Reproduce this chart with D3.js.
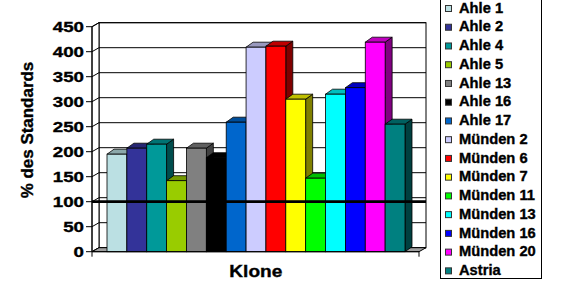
<!DOCTYPE html>
<html><head><meta charset="utf-8">
<script src="https://cdn.jsdelivr.net/npm/d3@7"></script>
<style>html,body{margin:0;padding:0;background:#fff;overflow:hidden}svg{display:block}text{font-family:"Liberation Sans",Arial,sans-serif;font-weight:bold;fill:#000;stroke:#000;stroke-width:0.35px}</style>
</head><body>
<script>
const categories = ["Ahle 1","Ahle 2","Ahle 4","Ahle 5","Ahle 13","Ahle 16","Ahle 17","Münden 2","Münden 6","Münden 7","Münden 11","Münden 13","Münden 16","Münden 20","Astria"];
const values = [195,207,215,142,207,188,259,409,411,305,147,315,328,419,255];
const colors = ["#BBE0E3","#333399","#009999","#99CC00","#808080","#000000","#0066CC","#CCCCFF","#FF0000","#FFFF00","#00FF00","#00FFFF","#0000FF","#FF00FF","#008080"];
const yTicks = [0,50,100,150,200,250,300,350,400,450];
const refValue = 100;
const xTitle = "Klone", yTitle = "% des Standards";

const W=562,H=308;
const svg=d3.select("body").append("svg").attr("width",W).attr("height",H);
const y=d3.scaleLinear().domain([0,450]).range([251.7,26.7]);
const x=d3.scaleBand().domain(categories).range([107,405]).padding(0);
const floorL=92, floorR=419, wdx=7, wdy=-4, bdx=7, bdy=-5;
const y0=y(0), yTop=y(450);

// back wall
svg.append("rect").attr("x",floorL+wdx).attr("y",yTop+wdy).attr("width",floorR-floorL).attr("height",y0-yTop)
  .attr("fill","#fff").attr("stroke","#000").attr("stroke-width",1);
// left wall
svg.append("path").attr("d",`M${floorL},${y0}L${floorL},${yTop}L${floorL+wdx},${yTop+wdy}L${floorL+wdx},${y0+wdy}Z`)
  .attr("fill","#fff").attr("stroke","#000");
// gridlines
yTicks.forEach(t=>{
  const yy=y(t);
  svg.append("path").attr("d",`M${floorL},${yy}L${floorL+wdx},${yy+wdy}L${floorR+wdx},${yy+wdy}`)
    .attr("fill","none").attr("stroke","#000").attr("stroke-width",1);
});
// floor
svg.append("path").attr("d",`M${floorL},${y0}L${floorL+wdx},${y0+wdy}L${floorR+wdx},${y0+wdy}L${floorR},${y0}Z`)
  .attr("fill","#A0A0A0").attr("stroke","#000");

function shade(c,k){const r=d3.rgb(c);return d3.rgb(r.r*k,r.g*k,r.b*k).toString();}
// bars
categories.forEach((c,i)=>{
  const x0=x(c), x1=x0+x.bandwidth(), yt=y(values[i]);
  const g=svg.append("g");
  g.append("path").attr("d",`M${x1},${y0}L${x1+bdx},${y0+bdy}L${x1+bdx},${yt+bdy}L${x1},${yt}Z`)
    .attr("fill",shade(colors[i],0.5)).attr("stroke","#000").attr("stroke-width",0.8);
  g.append("path").attr("d",`M${x0},${yt}L${x0+bdx},${yt+bdy}L${x1+bdx},${yt+bdy}L${x1},${yt}Z`)
    .attr("fill",shade(colors[i],0.75)).attr("stroke","#000").attr("stroke-width",0.8);
  g.append("rect").attr("x",x0).attr("y",yt).attr("width",x.bandwidth()).attr("height",y0-yt)
    .attr("fill",colors[i]).attr("stroke","#000").attr("stroke-width",0.8);
});

// axis line and ticks
svg.append("line").attr("x1",floorL).attr("x2",floorL).attr("y1",yTop).attr("y2",y0).attr("stroke","#000");
svg.append("line").attr("x1",floorL).attr("x2",floorR).attr("y1",y0).attr("y2",y0).attr("stroke","#000");
[floorL,floorR].forEach(xx=>svg.append("line").attr("x1",xx).attr("x2",xx).attr("y1",y0).attr("y2",y0+5).attr("stroke","#000"));
yTicks.forEach(t=>{
  svg.append("line").attr("x1",86).attr("x2",floorL).attr("y1",y(t)).attr("y2",y(t)).attr("stroke","#000");
  svg.append("text").attr("transform",`translate(84,${y(t)+5.4}) scale(1.25,1)`).attr("text-anchor","end")
    .attr("font-size",15).text(t);
});
// reference line
svg.append("line").attr("x1",floorL).attr("x2",floorR+wdx).attr("y1",y(refValue)).attr("y2",y(refValue))
  .attr("stroke","#000").attr("stroke-width",2.8);

// titles
svg.append("text").attr("transform","translate(255.8,276.7) scale(1.19,1)").attr("text-anchor","middle").attr("font-size",16).text(xTitle);
svg.append("text").attr("transform","translate(32.7,130) rotate(-90) scale(1.06,1)").attr("text-anchor","middle").attr("font-size",16).text(yTitle);

// legend
svg.append("rect").attr("x",440.5).attr("y",-1).attr("width",101).attr("height",279.5).attr("fill","#fff").attr("stroke","#000");
categories.forEach((c,i)=>{
  const by=12.7+i*18.74;
  svg.append("rect").attr("x",445.5).attr("y",by-7.2).attr("width",6).attr("height",6).attr("fill",colors[i]).attr("stroke","#333").attr("stroke-width",1);
  svg.append("text").attr("transform",`translate(459,${by}) scale(1.05,1)`).attr("font-size",14).text(c);
});
</script>
</body></html>
